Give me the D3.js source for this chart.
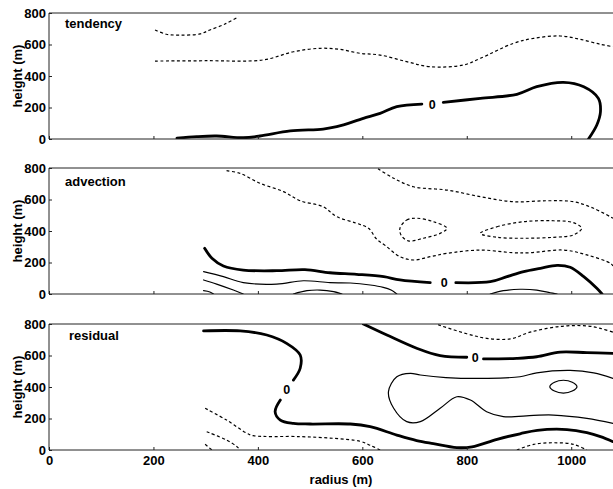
<!DOCTYPE html>
<html>
<head>
<meta charset="utf-8">
<script src="https://cdn.jsdelivr.net/npm/d3@7"></script>
<style>
  html, body { margin: 0; padding: 0; background: #fff; }
  svg { display: block; font-family: "Liberation Sans", Arial, sans-serif; }
</style>
</head>
<body>
<svg id="chart" width="613" height="489"></svg>
<script>
// Axis ticks and panel titles
const radiusTicks = [0, 200, 400, 600, 800, 1000];
const heightTicks = [0, 200, 400, 600, 800];
const panelNames = ["tendency", "advection", "residual"];

// Contours as [radius (m), height (m)] points; level: "zero", "pos" (solid), "neg" (dashed)
const tendencyContours = [
  { level: "neg", pts: [[203,692],[225,665],[251,660],[289,667],[308,692],[337,730],[363,777]] },
  { level: "neg", pts: [[203,495],[300,497],[410,502],[468,554],[519,576],[557,569],[596,544],[634,533],[685,491],[730,459],[794,470],[826,512],[889,607],[928,639],[979,654],[1017,633],[1056,601],[1080,586]] },
  { level: "zero", pts: [[245,5],[283,15],[321,19],[372,8],[404,19],[462,51],[525,63],[551,78],[602,131],[634,163],[666,205],[714,222]] },
  { level: "zero", pts: [[755,233],[826,258],[896,284],[934,332],[985,360],[1024,332],[1052,258],[1056,173],[1049,89],[1033,0]] }
];
const tendencyLabels = [[734, 220]];

const advectionContours = [
  { level: "neg", pts: [[340,783],[366,766],[404,703],[449,650],[481,592],[525,554],[551,491],[589,449],[612,417],[627,350],[645,305],[672,237],[698,216],[730,237],[762,258],[826,279],[889,262],[921,262],[985,279],[1030,248],[1075,195],[1080,178]] },
  { level: "neg", pts: [[630,795],[660,735],[698,681],[762,660],[826,618],[889,586],[953,592],[1004,586],[1043,544],[1080,481]] },
  { level: "neg", closed: true, pts: [[672,417],[685,470],[704,481],[736,459],[762,417],[749,385],[717,354],[688,337],[674,375]] },
  { level: "neg", closed: true, pts: [[826,385],[858,427],[909,459],[966,465],[1004,453],[1020,417],[1004,375],[966,360],[909,354],[858,360]] },
  { level: "zero", pts: [[298,290],[312,227],[334,178],[372,152],[436,148],[490,155],[538,135],[589,125],[641,110],[672,89],[730,72]] },
  { level: "zero", pts: [[779,72],[845,78],[877,110],[909,142],[941,163],[973,182],[998,170],[1024,110],[1049,36],[1059,0]] },
  { level: "pos", pts: [[296,142],[334,110],[372,72],[436,63],[487,84],[538,72],[577,70],[615,57],[640,42],[655,25],[666,0]] },
  { level: "pos", pts: [[296,89],[321,63],[353,25],[372,0]] },
  { level: "pos", pts: [[296,21],[308,13],[315,0]] },
  { level: "pos", pts: [[468,0],[494,21],[519,25],[545,15],[561,0]] },
  { level: "pos", pts: [[845,0],[870,21],[902,30],[934,25],[960,8],[973,0]] }
];
const advectionLabels = [[757, 72]];

const residualContours = [
  { level: "zero", pts: [[296,756],[366,756],[417,730],[455,677],[481,603],[481,519],[468,444]] },
  { level: "zero", pts: [[443,317],[433,243],[443,190],[468,169],[500,165],[577,165],[615,148],[666,95],[704,60],[736,40],[781,15],[810,20],[858,68],[902,103],[935,125],[992,130],[1030,110],[1056,85],[1080,53]] },
  { level: "zero", pts: [[602,800],[647,730],[704,646],[749,599],[800,589]] },
  { level: "zero", pts: [[832,578],[896,582],[934,592],[979,622],[1030,618],[1080,614]] },
  { level: "pos", pts: [[1080,455],[1043,490],[998,505],[934,490],[902,465],[838,455],[760,460],[711,476],[692,487],[666,465],[650,370],[660,265],[685,180],[711,180],[749,265],[781,338],[807,317],[838,243],[870,212],[928,220],[966,222],[1030,201],[1080,169]] },
  { level: "pos", closed: true, pts: [[959,402],[968,430],[985,443],[1002,430],[1011,402],[1002,374],[985,361],[968,374]] },
  { level: "neg", pts: [[745,795],[800,738],[838,709],[883,705],[921,748],[979,785],[1030,788],[1056,772],[1080,748]] },
  { level: "neg", pts: [[299,265],[340,190],[379,106],[391,91],[481,85],[545,74],[596,55],[615,30],[634,0]] },
  { level: "neg", pts: [[302,116],[340,63],[360,21],[366,0]] },
  { level: "neg", pts: [[299,36],[312,0]] },
  { level: "neg", pts: [[896,0],[928,36],[966,46],[1004,36],[1030,0]] }
];
const residualLabels = [[455, 381], [816, 586]];

const panels = [
  { name: panelNames[0], contours: tendencyContours, labels: tendencyLabels, top: 13, bottom: 139 },
  { name: panelNames[1], contours: advectionContours, labels: advectionLabels, top: 168, bottom: 294 },
  { name: panelNames[2], contours: residualContours, labels: residualLabels, top: 324, bottom: 450 }
];

const svg = d3.select("#chart");
const x = d3.scaleLinear().domain([0, 1080]).range([49, 613]);

const styles = {
  zero: { width: 2.8, dash: null },
  pos:  { width: 1.2, dash: null },
  neg:  { width: 1.2, dash: "3,2.5" }
};

const fontFamily = "'Liberation Sans', Arial, sans-serif";

panels.forEach((p, i) => {
  const y = d3.scaleLinear().domain([0, 800]).range([p.bottom, p.top]);
  const g = svg.append("g");

  const clipId = "clip" + i;
  svg.append("defs").append("clipPath").attr("id", clipId)
    .append("rect")
    .attr("x", x(0)).attr("y", p.top)
    .attr("width", x(1080) - x(0)).attr("height", p.bottom - p.top);

  const plot = g.append("g").attr("clip-path", `url(#${clipId})`);

  const openLine = d3.line().x(d => x(d[0])).y(d => y(d[1])).curve(d3.curveCatmullRom.alpha(0.5));
  const closedLine = d3.line().x(d => x(d[0])).y(d => y(d[1])).curve(d3.curveCatmullRomClosed.alpha(0.5));

  plot.selectAll("path.contour")
    .data(p.contours)
    .join("path")
    .attr("class", "contour")
    .attr("d", d => (d.closed ? closedLine : openLine)(d.pts))
    .attr("fill", "none")
    .attr("stroke", "#000")
    .attr("stroke-width", d => styles[d.level].width)
    .attr("stroke-dasharray", d => styles[d.level].dash)
    .attr("stroke-linejoin", "round")
    .attr("stroke-linecap", d => d.level === "neg" ? "butt" : "round");

  // contour value labels
  g.selectAll("text.clabel")
    .data(p.labels)
    .join("text")
    .attr("class", "clabel")
    .attr("x", d => x(d[0]))
    .attr("y", d => y(d[1]))
    .attr("dy", "0.36em")
    .attr("text-anchor", "middle")
    .attr("font-size", 12.5)
    .attr("font-weight", "bold")
    .text("0");

  // frame: left, top, bottom
  g.append("path")
    .attr("d", `M${x(1080)},${p.top}H${x(0)}V${p.bottom}H${x(1080)}`)
    .attr("fill", "none")
    .attr("stroke", "#222")
    .attr("stroke-width", 1);

  // y axis
  const yAxis = d3.axisLeft(y).tickValues(heightTicks).tickSize(-3).tickPadding(3).tickFormat(d3.format("d"));
  const ya = g.append("g").attr("transform", `translate(${x(0)},0)`).call(yAxis);
  ya.select(".domain").remove();
  ya.selectAll("line").attr("stroke", "#222");
  ya.selectAll("text")
    .attr("font-size", 13).attr("font-weight", "bold")
    .attr("font-family", fontFamily).attr("fill", "#000");

  // x axis (ticks on all, labels on bottom panel)
  const xAxis = d3.axisBottom(x).tickValues(radiusTicks).tickSize(-3).tickPadding(6).tickFormat(d3.format("d"));
  const xa = g.append("g").attr("transform", `translate(0,${p.bottom})`).call(xAxis);
  xa.select(".domain").remove();
  xa.selectAll("line").attr("stroke", "#222");
  xa.selectAll("text")
    .attr("font-size", 13).attr("font-weight", "bold")
    .attr("font-family", fontFamily).attr("fill", "#000")
    .style("display", i === panels.length - 1 ? null : "none");

  // y title
  g.append("text")
    .attr("transform", `translate(22,${(p.top + p.bottom) / 2}) rotate(-90)`)
    .attr("text-anchor", "middle")
    .attr("font-size", 13).attr("font-weight", "bold")
    .text("height (m)");

  // panel title
  g.append("text")
    .attr("x", i === 2 ? 69 : 65)
    .attr("y", p.top + (i === 0 ? 15 : i === 1 ? 18 : 16))
    .attr("font-size", 13).attr("font-weight", "bold")
    .text(p.name);
});

svg.append("text")
  .attr("x", 341).attr("y", 484)
  .attr("text-anchor", "middle")
  .attr("font-size", 13).attr("font-weight", "bold")
  .text("radius (m)");
</script>
</body>
</html>
